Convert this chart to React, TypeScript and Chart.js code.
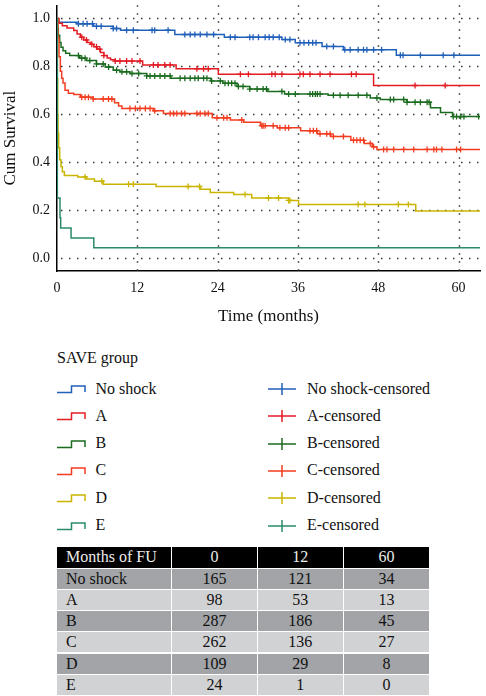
import React, { useEffect, useRef } from "react";
import { Chart, registerables } from "chart.js";
Chart.register(...registerables);

// ---------- data ----------
const xTicks = [0, 12, 24, 36, 48, 60];
const yTicks = [0, 0.2, 0.4, 0.6, 0.8, 1.0];
const xMax = 63.2;

const groupNames = ["No shock", "A", "B", "C", "D", "E"];

const noShockTime = [0, 0.2, 3.0, 5.4, 8.4, 9.5, 17.6, 25.0, 33.6, 35.6, 39.6, 42.8, 50.7, 63.2];
const noShockSurv = [1.0, 0.984, 0.978, 0.967, 0.958, 0.951, 0.933, 0.922, 0.912, 0.899, 0.883, 0.869, 0.846, 0.846];
const noShockCensor = [3.2, 3.9, 4.5, 5.3, 5.9, 6.6, 8.4, 8.9, 10.4, 11.4, 14.2, 14.6, 16.6, 19.1, 19.9, 20.6, 21.4, 22.4, 23.4, 25.9, 26.6, 28.8, 29.3, 30.1, 31.1, 31.7, 32.3, 33.2, 34.1, 34.8, 36.3, 36.9, 37.6, 38.2, 38.7, 40.3, 41.3, 43.0, 43.8, 45.0, 45.8, 46.3, 47.3, 48.5, 51.3, 51.7, 54.3, 57.7, 59.3];

const aTime = [0, 0.3, 0.8, 1.5, 2.5, 3.0, 3.5, 4.0, 4.5, 5.0, 5.5, 6.0, 6.5, 7.0, 7.5, 8.0, 8.6, 12.8, 17.8, 24.1, 47.3, 63.2];
const aSurv = [1.0, 0.98, 0.97, 0.96, 0.95, 0.935, 0.922, 0.91, 0.9, 0.892, 0.882, 0.872, 0.858, 0.845, 0.835, 0.828, 0.822, 0.806, 0.79, 0.767, 0.72, 0.72];
const aCensor = [3.7, 4.4, 5.2, 5.9, 6.4, 7.0, 8.7, 9.4, 10.4, 11.2, 12.4, 14.4, 15.1, 16.1, 16.9, 20.9, 21.9, 22.6, 27.4, 28.6, 32.1, 32.6, 33.6, 36.3, 36.8, 37.8, 39.3, 40.8, 44.0, 44.7, 53.5, 58.0];

const bTime = [0, 0.1, 0.2, 0.4, 0.6, 0.9, 1.3, 1.9, 3.4, 4.4, 5.9, 7.2, 8.4, 9.4, 10.9, 13.4, 17.0, 23.0, 24.8, 26.9, 28.8, 31.5, 34.0, 40.5, 46.8, 48.3, 52.3, 55.8, 57.3, 59.1, 63.2];
const bSurv = [1.0, 0.96, 0.93, 0.9, 0.88, 0.865, 0.855, 0.845, 0.834, 0.824, 0.81, 0.797, 0.784, 0.777, 0.77, 0.76, 0.75, 0.739, 0.729, 0.716, 0.705, 0.695, 0.684, 0.679, 0.668, 0.661, 0.65, 0.627, 0.607, 0.59, 0.59];
const bCensor = [3.2, 3.7, 4.2, 4.9, 5.9, 6.9, 7.7, 8.9, 9.7, 10.4, 11.2, 12.2, 13.4, 13.9, 14.6, 15.4, 16.1, 16.9, 18.4, 19.1, 19.9, 20.6, 21.1, 21.9, 22.4, 23.1, 24.4, 25.1, 25.6, 26.1, 26.6, 27.1, 27.8, 28.8, 29.9, 30.8, 31.3, 33.6, 34.6, 35.6, 37.8, 38.2, 38.6, 38.9, 39.3, 41.3, 42.3, 43.5, 45.0, 46.3, 47.8, 49.8, 50.3, 51.8, 52.3, 53.5, 54.3, 55.3, 55.6, 59.2, 59.7, 60.3, 60.8, 63.0];

const cTime = [0, 0.15, 0.3, 0.5, 0.7, 0.9, 1.2, 1.7, 2.5, 3.5, 5.4, 8.6, 9.2, 9.7, 14.4, 15.9, 23.2, 25.9, 27.9, 30.4, 32.9, 36.4, 38.9, 40.9, 43.9, 45.9, 47.1, 47.8, 63.2];
const cSurv = [1.0, 0.92, 0.84, 0.78, 0.75, 0.73, 0.7, 0.688, 0.682, 0.671, 0.664, 0.648, 0.634, 0.624, 0.614, 0.603, 0.585, 0.576, 0.566, 0.552, 0.543, 0.531, 0.518, 0.507, 0.491, 0.478, 0.464, 0.453, 0.453];
const cCensor = [3.7, 4.2, 4.7, 5.4, 6.9, 7.7, 8.2, 10.9, 11.7, 12.4, 13.2, 13.9, 14.6, 16.9, 17.4, 17.9, 18.6, 19.1, 20.9, 21.4, 22.1, 22.6, 23.9, 24.9, 25.4, 27.6, 30.6, 30.8, 31.1, 32.3, 33.3, 34.1, 34.6, 37.8, 38.3, 38.8, 39.3, 40.3, 40.8, 41.3, 42.8, 44.3, 44.8, 45.3, 45.8, 46.8, 47.3, 48.8, 49.3, 50.3, 51.8, 53.3, 55.3, 56.3, 56.7, 57.5, 59.7, 60.3];

const dTime = [0, 0.05, 0.1, 0.15, 0.25, 0.4, 0.6, 0.8, 1.1, 3.1, 4.4, 5.6, 6.9, 14.8, 21.4, 22.9, 26.4, 29.1, 34.6, 36.1, 53.6, 63.2];
const dSurv = [1.0, 0.75, 0.6, 0.52, 0.46, 0.41, 0.38, 0.36, 0.344, 0.338, 0.329, 0.32, 0.307, 0.298, 0.287, 0.273, 0.265, 0.25, 0.24, 0.223, 0.196, 0.196];
const dCensor = [4.2, 6.7, 10.7, 11.4, 19.6, 21.3, 28.1, 31.6, 33.1, 34.6, 34.8, 45.0, 46.0, 51.0, 52.5];

const eTime = [0, 0.05, 0.45, 0.55, 2.1, 5.5, 63.2];
const eSurv = [1.0, 0.25, 0.167, 0.125, 0.083, 0.042, 0.042];
const eCensor: number[] = [];

const tableHeader = ["Months of FU", "0", "12", "60"];
const atRisk0 = [165, 98, 287, 262, 109, 24];
const atRisk12 = [121, 53, 186, 136, 29, 1];
const atRisk60 = [34, 13, 45, 27, 8, 0];

// ---------- styles ----------
const colors = ["#2160b8", "#e31d24", "#1b6b1f", "#f23c20", "#c9b500", "#2a8a6c"];
const FONT = "'Liberation Serif', 'Times New Roman', serif";

const curves = [
  { t: noShockTime, s: noShockSurv, c: noShockCensor },
  { t: aTime, s: aSurv, c: aCensor },
  { t: bTime, s: bSurv, c: bCensor },
  { t: cTime, s: cSurv, c: cCensor },
  { t: dTime, s: dSurv, c: dCensor },
  { t: eTime, s: eSurv, c: eCensor },
];

function survAt(t: number[], s: number[], x: number) {
  let v = s[0];
  for (let i = 0; i < t.length; i++) if (t[i] <= x) v = s[i];
  return v;
}

const dottedGrid = {
  id: "dottedGrid",
  beforeDatasetsDraw(chart: any) {
    const { ctx, chartArea, scales } = chart;
    ctx.save();
    ctx.strokeStyle = "#333";
    ctx.lineWidth = 1.5;
    ctx.setLineDash([1.5, 6.5]);
    yTicks.forEach((v) => {
      const y = Math.round(scales.y.getPixelForValue(v)) + 0.5;
      ctx.beginPath();
      ctx.moveTo(chartArea.left + 4, y);
      ctx.lineTo(chartArea.right, y);
      ctx.stroke();
    });
    xTicks.filter((v) => v > 0).forEach((v) => {
      const x = Math.round(scales.x.getPixelForValue(v)) + 0.5;
      ctx.beginPath();
      ctx.moveTo(x, chartArea.top);
      ctx.lineTo(x, chartArea.bottom);
      ctx.stroke();
    });
    ctx.restore();
  },
};

function KMChart() {
  const ref = useRef<HTMLCanvasElement | null>(null);
  useEffect(() => {
    if (!ref.current) return;
    const datasets: any[] = [];
    curves.forEach((cv, gi) => {
      datasets.push({
        type: "line",
        label: groupNames[gi],
        data: cv.t.map((t, i) => ({ x: t, y: cv.s[i] })),
        stepped: true,
        borderColor: colors[gi],
        borderWidth: 1.5,
        pointRadius: 0,
        fill: false,
        order: 6 - gi,
      });
      datasets.push({
        type: "scatter",
        label: groupNames[gi] + "-censored",
        data: cv.c.map((x) => ({ x, y: survAt(cv.t, cv.s, x) })),
        pointStyle: "cross",
        pointRadius: 3,
        borderColor: colors[gi],
        backgroundColor: colors[gi],
        pointBorderWidth: 1.3,
        showLine: false,
        order: 6 - gi,
      });
    });
    const chart = new Chart(ref.current, {
      type: "line",
      data: { datasets },
      plugins: [dottedGrid],
      options: {
        animation: false,
        responsive: false,
        devicePixelRatio: 1,
        layout: { padding: { left: 0, right: 6, top: 0, bottom: 0 } },
        plugins: { legend: { display: false }, tooltip: { enabled: false } },
        scales: {
          x: {
            type: "linear",
            min: 0,
            max: xMax,
            afterBuildTicks: (s: any) => {
              s.ticks = xTicks.map((v) => ({ value: v }));
            },
            afterFit: (s: any) => {
              s.height = 64;
              s.paddingLeft = 0;
              s.paddingRight = 0;
            },
            grid: { display: false, drawTicks: false },
            border: { display: true, color: "#000", width: 1.5 },
            ticks: {
              padding: 9,
              color: "#111",
              font: { family: FONT, size: 14 },
              callback: (v: any) => String(v),
            },
            title: {
              display: true,
              text: "Time (months)",
              color: "#111",
              font: { family: FONT, size: 17 },
              padding: { top: 0, bottom: 8 },
            },
          },
          y: {
            type: "linear",
            min: -0.055,
            max: 1.055,
            afterBuildTicks: (s: any) => {
              s.ticks = yTicks.map((v) => ({ value: v }));
            },
            afterFit: (s: any) => {
              s.width = 57;
              s.paddingTop = 0;
              s.paddingBottom = 0;
            },
            grid: { display: false, drawTicks: false },
            border: { display: true, color: "#000", width: 1.5 },
            ticks: {
              padding: 7,
              color: "#111",
              font: { family: FONT, size: 14 },
              callback: (v: any) => Number(v).toFixed(1),
            },
            title: {
              display: true,
              text: "Cum Survival",
              color: "#111",
              font: { family: FONT, size: 17 },
              padding: { top: 0, bottom: 0 },
            },
          },
        },
      } as any,
    });
    return () => chart.destroy();
  }, []);
  return (
    <canvas
      ref={ref}
      width={486}
      height={335}
      style={{ position: "absolute", left: 0, top: 0, width: 486, height: 335 }}
    />
  );
}

function StepIcon({ color, top }: { color: string; top: number }) {
  return (
    <svg width={30} height={14} style={{ position: "absolute", left: 56, top: top - 7 }}>
      <path d="M1,10.5 H15.5 V4 H29 V10" stroke={color} strokeWidth={1.5} fill="none" />
    </svg>
  );
}

function CensorIcon({ color, top }: { color: string; top: number }) {
  return (
    <svg width={30} height={14} style={{ position: "absolute", left: 267, top: top - 7 }}>
      <path d="M1,7 H29 M15,1 V13" stroke={color} strokeWidth={1.5} fill="none" />
    </svg>
  );
}

function Legend() {
  const rowCenters = [389, 416.3, 443.6, 470.9, 498.2, 525.5];
  const textStyle: React.CSSProperties = {
    position: "absolute",
    fontFamily: FONT,
    fontSize: 16,
    lineHeight: "20px",
    color: "#111",
    whiteSpace: "nowrap",
  };
  return (
    <>
      <div style={{ ...textStyle, left: 57, top: 347.5 }}>SAVE group</div>
      {groupNames.map((g, i) => (
        <React.Fragment key={g}>
          <StepIcon color={colors[i]} top={rowCenters[i]} />
          <div style={{ ...textStyle, left: 95.5, top: rowCenters[i] - 10.5 }}>{g}</div>
          <CensorIcon color={colors[i]} top={rowCenters[i]} />
          <div style={{ ...textStyle, left: 307, top: rowCenters[i] - 10.5 }}>{g + "-censored"}</div>
        </React.Fragment>
      ))}
    </>
  );
}

function RiskTable() {
  const colX = [57, 171.5, 257.3, 343.3, 429.3];
  const rowY = [546.7, 568.2, 589.4, 610.6, 631.8, 653.0, 674.2, 695.4];
  const dark = "#a2a4a7";
  const light = "#d1d2d4";
  const rows: string[][] = [tableHeader];
  groupNames.forEach((g, r) => rows.push([g, String(atRisk0[r]), String(atRisk12[r]), String(atRisk60[r])]));
  const cells: React.ReactNode[] = [];
  rows.forEach((row, r) => {
    const bg = r === 0 ? "#000" : r % 2 === 1 ? dark : light;
    const fg = r === 0 ? "#ececec" : "#111";
    row.forEach((v, c) => {
      const x0 = colX[c] + (c === 0 ? 0 : 0.6);
      const x1 = colX[c + 1] - (c === 3 ? 0 : 0.6);
      const y0 = rowY[r] + (r === 0 ? 0 : 0.6);
      const y1 = rowY[r + 1] - 0.6;
      cells.push(
        <div
          key={r + "-" + c}
          style={{
            position: "absolute",
            left: x0,
            top: y0,
            width: x1 - x0,
            height: y1 - y0,
            background: bg,
            color: fg,
            fontFamily: FONT,
            fontSize: 16,
            lineHeight: y1 - y0 + "px",
            textAlign: c === 0 ? "left" : "center",
            paddingLeft: c === 0 ? 9 : 0,
            boxSizing: "border-box",
            whiteSpace: "nowrap",
          }}
        >
          {v}
        </div>
      );
    });
  });
  return <>{cells}</>;
}

export default function App() {
  return (
    <div
      style={{
        position: "absolute",
        left: 0,
        top: 0,
        width: 486,
        height: 696,
        background: "#fff",
        overflow: "hidden",
      }}
    >
      <KMChart />
      <Legend />
      <RiskTable />
    </div>
  );
}
